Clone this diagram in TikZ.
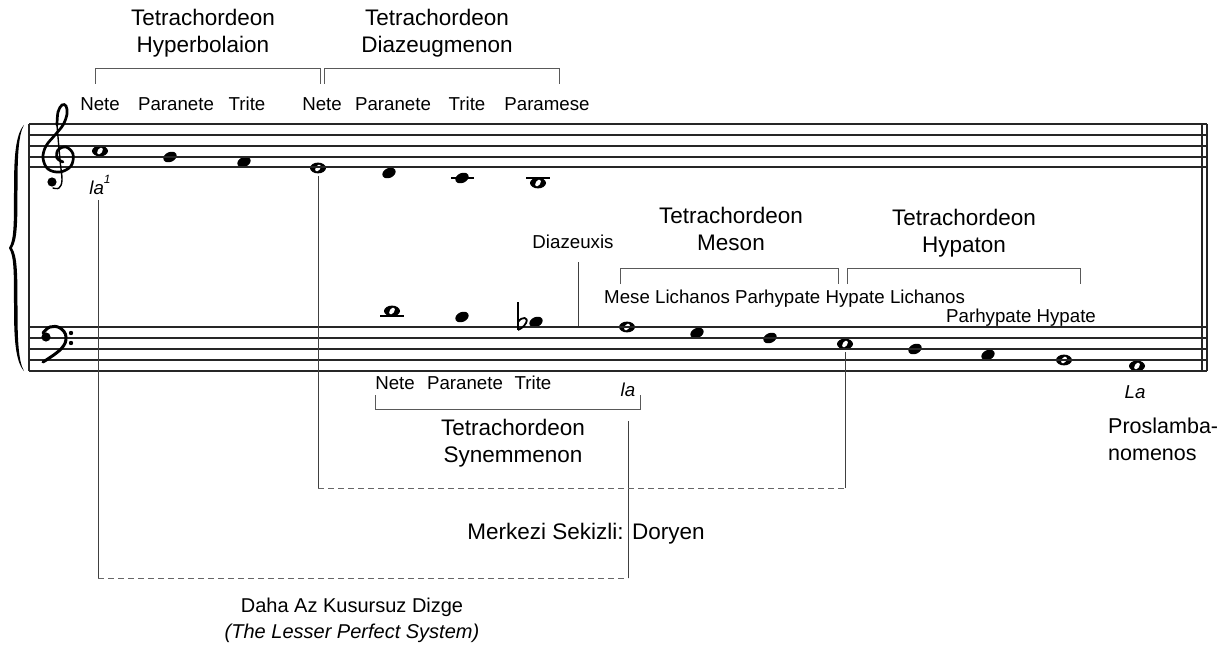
\documentclass[tikz,border=0pt]{standalone}
\usepackage{fontspec}
\setmainfont{Liberation Sans}
\usetikzlibrary{calc}
\tikzset{
  lbl/.style={font=\fontsize{18.7}{22}\selectfont, inner sep=0pt, anchor=base},
  big/.style={font=\fontsize{22.5}{27}\selectfont, inner sep=0pt, align=center, anchor=north},
  conn/.style={draw=black!75, line width=0.9},
  dconn/.style={draw=black!60, line width=0.9, dash pattern=on 6pt off 4pt},
  brk/.style={draw=black!65, line width=0.9},
  staffline/.style={draw=black!85, line width=1.2},
  ledger/.style={draw=black, line width=1.2},
  wnote/.pic={\fill (0,0) ellipse (8 and 5.4); \fill[white, rotate=-35] (0,0) ellipse (2.2 and 3.8);},
  fnote/.pic={\fill[rotate=25] (0,0) ellipse (7 and 4.9);}
}
\begin{document}
\begin{tikzpicture}[x=1pt,y=-1pt]
\useasboundingbox[fill=white] (0,0) rectangle (1232,650);

% note positions
\coordinate (t1) at (100,151);
\coordinate (t2) at (170,157);
\coordinate (t3) at (244,162);
\coordinate (t4) at (318,168);
\coordinate (t5) at (389,173);
\coordinate (t6) at (462,178);
\coordinate (t7) at (538,183);
\coordinate (b1) at (392,311);
\coordinate (b2) at (462,317);
\coordinate (b3) at (536,322);
\coordinate (b4) at (627,327);
\coordinate (b5) at (697,333);
\coordinate (b6) at (770,338);
\coordinate (b7) at (845,344);
\coordinate (b8) at (915,349);
\coordinate (b9) at (988,355);
\coordinate (b10) at (1064,360);
\coordinate (b11) at (1137,366);

% notes
\pic at (t1) {wnote};
\pic at (t2) {fnote};
\pic at (t3) {fnote};
\pic at (t4) {wnote};
\pic at (t5) {fnote};
\pic at (t6) {fnote};
\pic at (t7) {wnote};
\pic at (b1) {wnote};
\pic at (b2) {fnote};
\pic at (b3) {fnote};
\pic at (b4) {wnote};
\pic at (b5) {fnote};
\pic at (b6) {fnote};
\pic at (b7) {wnote};
\pic at (b8) {fnote};
\pic at (b9) {fnote};
\pic at (b10) {wnote};
\pic at (b11) {wnote};

% staves
\foreach \y in {124,135,146,157,167} \draw[staffline] (29,\y) -- (1207,\y);
\foreach \y in {327,338,349,360,371} \draw[staffline] (29,\y) -- (1207,\y);
\draw[staffline] (29,124) -- (29,371);
\draw[staffline] (1202,124) -- (1202,371);
\draw[staffline] (1207,124) -- (1207,371);
% ledger lines
\draw[ledger] (451,178) -- (474,178);
\draw[ledger] (526,178) -- (550,178);
\draw[ledger] (380,316) -- (404,316);

% brace
\fill (24,125) .. controls (15,135) and (14,160) .. (14,190)
  .. controls (14,225) and (14,240) .. (9,248)
  .. controls (14,256) and (14,271) .. (14,306)
  .. controls (14,336) and (15,361) .. (24,371)
  .. controls (18,361) and (17.5,336) .. (17.5,306)
  .. controls (17.5,271) and (17,256) .. (12,248)
  .. controls (17,240) and (17.5,225) .. (17.5,190)
  .. controls (17.5,160) and (18,135) .. (24,125) -- cycle;

% treble clef
\draw[line width=2.7, line cap=round] plot[smooth, tension=0.6] coordinates {
 (63,162) (57,158) (58,150) (66,147) (73,154) (71,166) (60,172) (48,169)
 (43,158) (46,146) (55,135) (63,125) (67,114) (66,106) (62,105) (58,112) (57,125)};
\draw[line width=1.4, line cap=round] plot[smooth, tension=0.6] coordinates {
 (57,125) (60,160) (62,180) (59,188) (53,188)};
\fill (52,182) circle (4.6);

% bass clef
\fill (46,337) circle (4.6);
\draw[line width=3, line cap=round] plot[smooth, tension=0.7] coordinates {
 (43,333) (50,327) (60,328) (66,337) (61,349) (43,362)};
\fill (71,333) circle (2.2);
\fill (71,343) circle (2.2);

% flat
\draw[line width=1.2] (518,302) -- (518,330);
\draw[line width=1.8] (518,322) .. controls (522,316) and (529,317) .. (526,323) .. controls (524,327) and (520,329) .. (518,330);

% brackets
\draw[brk] (95,84) -- (95,68) -- (320,68) -- (320,84);
\draw[brk] (324,84) -- (324,68) -- (559,68) -- (559,84);
\draw[brk] (620,284) -- (620,268) -- (838,268) -- (838,284);
\draw[brk] (847,284) -- (847,268) -- (1080,268) -- (1080,284);
\draw[brk] (375,395) -- (375,409) -- (640,409) -- (640,395);

% headings
\node[big] (hyp) at (203,9) {Tetrachordeon\\Hyperbolaion};
\node[big] (dia) at (437,9) {Tetrachordeon\\Diazeugmenon};
\node[big] (mes) at (731,207) {Tetrachordeon\\Meson};
\node[big] (hypa) at (964,209) {Tetrachordeon\\Hypaton};
\node[big] (syn) at (513,419) {Tetrachordeon\\Synemmenon};
\node[big] (mer) at (586,523) {Merkezi Sekizli: Doryen};
\node[big, font=\fontsize{20}{26}\selectfont] (daha) at (352,598) {Daha Az Kusursuz Dizge\\\textit{(The Lesser Perfect System)}};
\node[big, font=\fontsize{21.5}{27}\selectfont, align=left, anchor=north west] (pros) at (1108,418) {Proslamba-\\nomenos};

% treble labels
\node[lbl] (l1) at (100,111) {Nete};
\node[lbl] (l2) at (176,111) {Paranete};
\node[lbl] (l3) at (247,111) {Trite};
\node[lbl] (l4) at (322,111) {Nete};
\node[lbl] (l5) at (393,111) {Paranete};
\node[lbl] (l6) at (467,111) {Trite};
\node[lbl] (l7) at (547,111) {Paramese};
\node[lbl] (la1) at (100,194) {\textit{la\raisebox{1.05ex}{\fontsize{12}{12}\selectfont 1}}};

% bass labels
\node[lbl] (dzl) at (573,248) {Diazeuxis};
\node[lbl, anchor=base west] (m1) at (604,303) {Mese Lichanos Parhypate Hypate Lichanos};
\node[lbl, anchor=base west] (m2) at (946,322) {Parhypate Hypate};
\node[lbl] (s1) at (395,389) {Nete};
\node[lbl] (s2) at (465,389) {Paranete};
\node[lbl] (s3) at (533,389) {Trite};
\node[lbl] (la) at (628,396) {\textit{la}};
\node[lbl] (La) at (1135,398) {\textit{La}};

% connectors
\coordinate (c1) at (98,578);
\coordinate (c2) at (628,578);
\coordinate (c3) at (628,421);
\draw[conn] ($(la1.south -| c1)+(0,6)$) -- (c1);
\draw[dconn] (c1) -- (c2);
\draw[conn] (c2) -- (c3);

\coordinate (d1) at (318,488);
\coordinate (d2) at (845,488);
\draw[conn] ($(t4)+(0,8)$) -- (d1);
\draw[dconn] (d1) -- (d2);
\draw[conn] (d2) -- ($(b7)+(0,8)$);

\coordinate (dz1) at (578,262);
\coordinate (dz2) at (578,326);
\draw[conn] (dz1) -- (dz2);
\end{tikzpicture}
\end{document}
